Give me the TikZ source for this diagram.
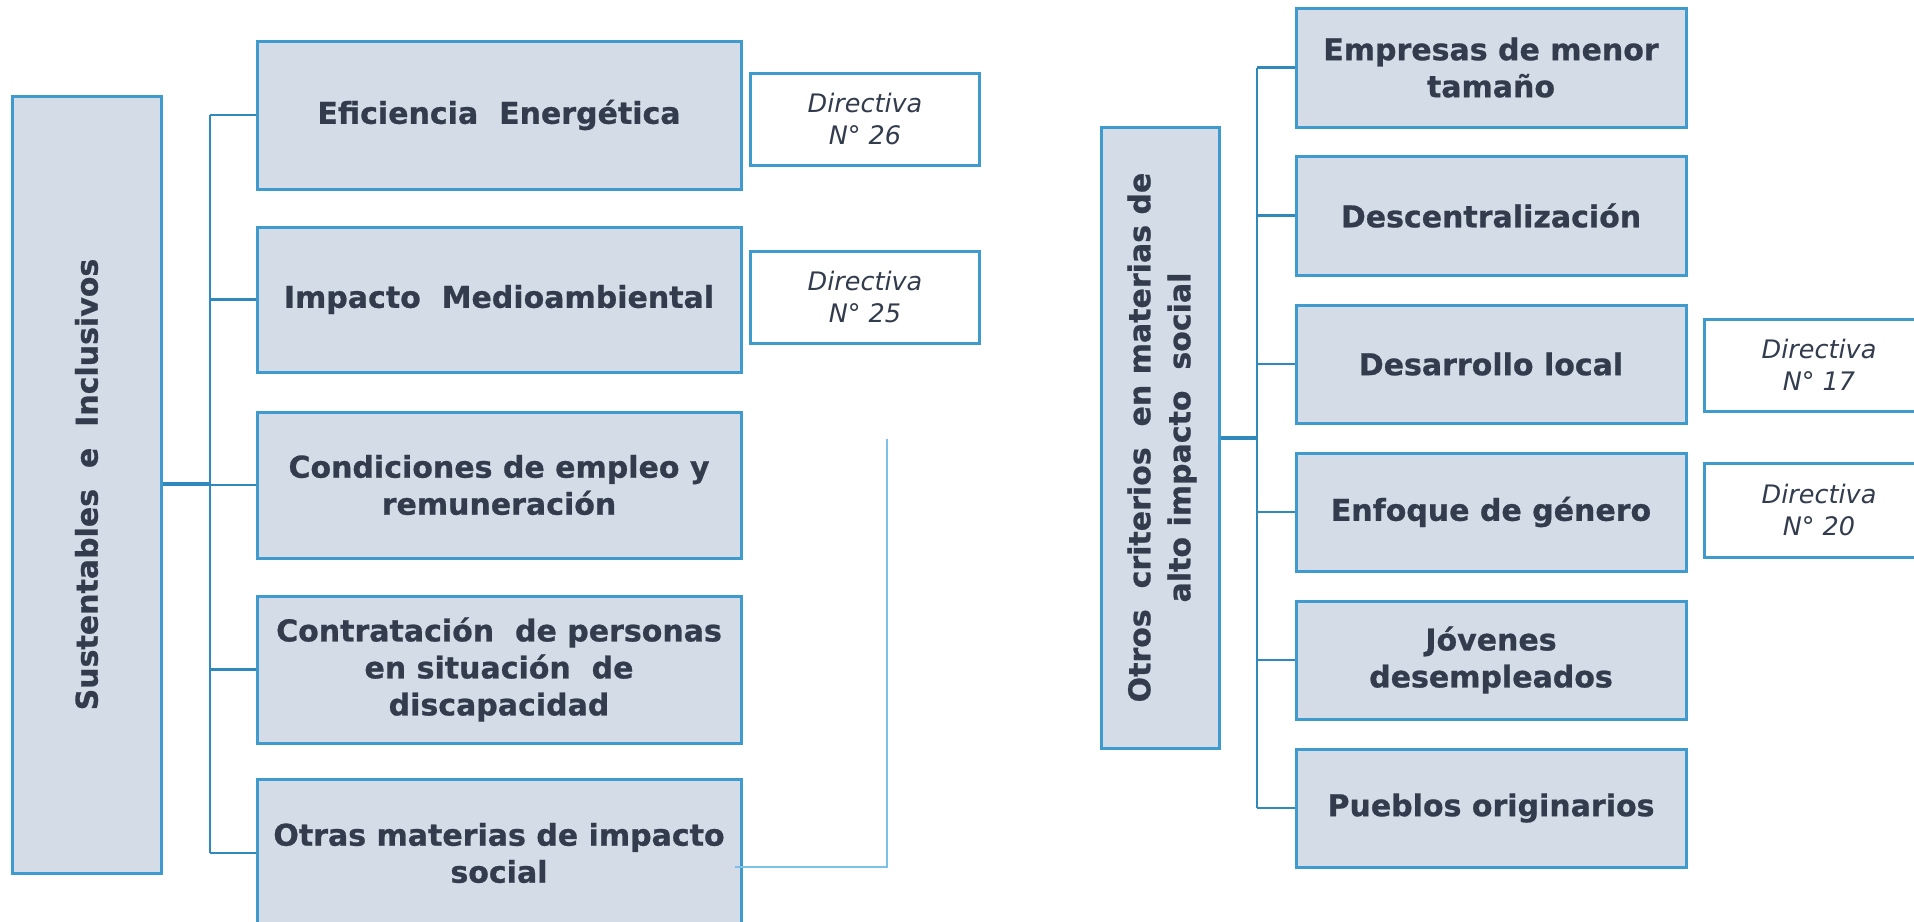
\documentclass[tikz,border=0pt]{standalone}
\usepackage{fontspec}
\setmainfont{DejaVu Sans}[BoldFeatures={FakeBold=0.8}]
\begin{document}
\begin{tikzpicture}[x=1pt,y=-1pt,
  mainbox/.style={draw=boxline,fill=boxfill,line width=3pt,inner sep=0pt,text=txt,font=\bfseries\fontsize{30}{37}\selectfont,align=center},
  dirbox/.style={draw=boxline,fill=white,line width=3pt,inner sep=0pt,text=txt,font=\itshape\fontsize{25.5}{32}\selectfont,align=center},
  conn/.style={draw=connc,line width=2.4pt},
  thickconn/.style={draw=connc,line width=4pt},
  lightconn/.style={draw=lightc,line width=1.8pt}]
\definecolor{boxline}{HTML}{3F9BCD}
\definecolor{boxfill}{HTML}{D4DDE7}
\definecolor{txt}{HTML}{323C4C}
\definecolor{connc}{HTML}{2F89BC}
\definecolor{lightc}{HTML}{7CC2E8}
\useasboundingbox (0,0) rectangle (1914,921);
\clip (0,0) rectangle (1914,921);
% left group
\node[mainbox,minimum width=149,minimum height=777] (L) at (86.5,484.5) {};
\node[text=txt,font=\bfseries\fontsize{30}{37}\selectfont,rotate=90] (Lt) at (86.5,484.5) {Sustentables\ \ e\ \ Inclusivos};
\node[mainbox,minimum width=484,minimum height=148] (b1) at (499,115) {Eficiencia\ \ Energética};
\node[mainbox,minimum width=484,minimum height=145] (b2) at (499,299.5) {Impacto\ \ Medioambiental};
\node[mainbox,minimum width=484,minimum height=146] (b3) at (499,485) {Condiciones\ de empleo\ y\\ remuneración};
\node[mainbox,minimum width=484,minimum height=147] (b4) at (499,669.5) {Contratación\ \ de personas\\ en situación\ \ de\\ discapacidad};
\node[mainbox,minimum width=484,minimum height=148] (b5) at (499,853) {Otras materias\ de impacto\\ social};
\node[dirbox,minimum width=229,minimum height=92] (d1) at (865,119) {Directiva\\ N° 26};
\node[dirbox,minimum width=229,minimum height=92] (d2) at (865,297) {Directiva\\ N° 25};
\coordinate (sp) at (210,484);
\draw[thickconn] (L.east |- sp) -- (sp);
\draw[conn] (sp |- b1.west) -- (sp |- b5.west);
\foreach \b in {b1,b2,b3,b4,b5} \draw[conn] (sp |- \b.west) -- (\b.west);
\coordinate (o1) at (735,867);
\coordinate (o2) at (887,867);
\coordinate (o3) at (887,439);
\draw[lightconn] (o1) -- (o2) -- (o3);
% right group
\node[mainbox,minimum width=118,minimum height=621] (R) at (1160,437.5) {};
\node[text=txt,font=\bfseries\fontsize{30}{40}\selectfont,rotate=90,align=center] (Rt) at (1162,437.5) {Otros\ \ criterios\ \ en materias de\\ alto impacto\ \ social};
\node[mainbox,minimum width=390,minimum height=119] (r1) at (1491,67.5) {Empresas de menor\\ tamaño};
\node[mainbox,minimum width=390,minimum height=119] (r2) at (1491,215.5) {Descentralización};
\node[mainbox,minimum width=390,minimum height=118] (r3) at (1491,364) {Desarrollo\ local};
\node[mainbox,minimum width=390,minimum height=118] (r4) at (1491,512) {Enfoque de género};
\node[mainbox,minimum width=390,minimum height=118] (r5) at (1491,660) {Jóvenes\\ desempleados};
\node[mainbox,minimum width=390,minimum height=118] (r6) at (1491,808) {Pueblos originarios};
\node[dirbox,minimum width=230,minimum height=92] (d3) at (1819,365) {Directiva\\ N° 17};
\node[dirbox,minimum width=230,minimum height=94] (d4) at (1819,510) {Directiva\\ N° 20};
\coordinate (rs) at (1257,438);
\draw[thickconn] (R.east |- rs) -- (rs);
\draw[conn] (rs |- r1.west) -- (rs |- r6.west);
\foreach \b in {r1,r2,r3,r4,r5,r6} \draw[conn] (rs |- \b.west) -- (\b.west);
\end{tikzpicture}
\end{document}
